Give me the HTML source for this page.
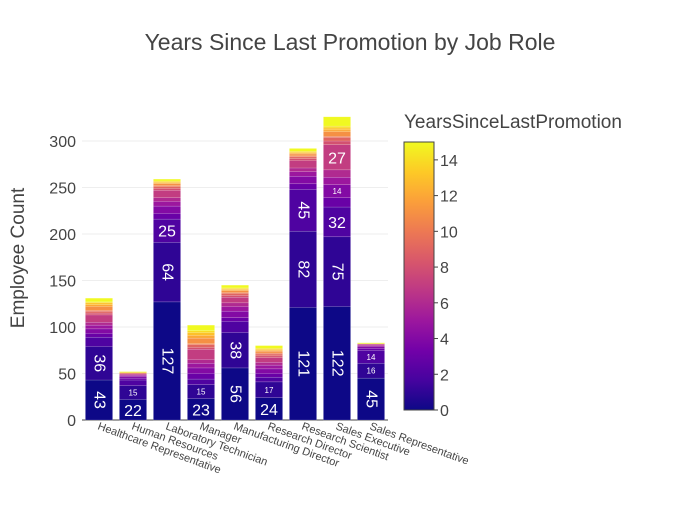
<!DOCTYPE html>
<html><head><meta charset="utf-8"><style>
body{margin:0;background:#fff;font-family:"Liberation Sans",sans-serif}
</style></head><body>
<svg id="c" width="700" height="500" xmlns="http://www.w3.org/2000/svg" style="font-family:'Liberation Sans',sans-serif">
<defs><linearGradient id="cb" x1="0" y1="1" x2="0" y2="0">
<stop offset="0" stop-color="#0d0887"/><stop offset="0.111" stop-color="#46039f"/><stop offset="0.222" stop-color="#7201a8"/><stop offset="0.333" stop-color="#9c179e"/><stop offset="0.444" stop-color="#bd3786"/><stop offset="0.556" stop-color="#d8576b"/><stop offset="0.667" stop-color="#ed7953"/><stop offset="0.778" stop-color="#fb9f3a"/><stop offset="0.889" stop-color="#fdca26"/><stop offset="1" stop-color="#f0f921"/></linearGradient></defs>
<text x="350" y="50" text-anchor="middle" font-size="23" fill="#444">Years Since Last Promotion by Job Role</text>
<text transform="translate(24,258) rotate(-90)" text-anchor="middle" font-size="19" fill="#444">Employee Count</text>
<g id="grid"></g><g id="bars"></g><g id="xl"></g>
<text x="404" y="128" font-size="19" fill="#444">YearsSinceLastPromotion</text>
<rect x="404" y="142" width="30" height="268" fill="url(#cb)" stroke="#444" stroke-width="1"/>
<g id="cbt"></g>
</svg>
<script>
const roles=["Healthcare Representative","Human Resources","Laboratory Technician","Manager","Manufacturing Director","Research Director","Research Scientist","Sales Executive","Sales Representative"];
const years=[0,1,2,3,4,5,6,7,8,9,10,11,12,13,14,15];
const hc=[43,36,10,4,5,4,3,8,2,2,1,4,2,2,1,4];
const hr=[22,15,6,2,2,1,1,1,0,0,0,1,0,0,0,1];
const lt=[127,64,25,6,8,5,4,8,2,2,1,2,1,1,1,2];
const mg=[23,15,6,6,6,5,4,11,2,3,1,6,3,3,2,6];
const md=[56,38,12,4,7,5,4,6,2,2,1,2,1,1,1,3];
const rd=[24,17,5,4,5,4,3,5,2,2,1,2,1,1,1,3];
const rs=[121,82,45,6,8,5,4,8,2,2,1,2,1,1,1,3];
const se=[122,75,32,10,14,8,8,27,4,4,1,5,2,2,2,10];
const sr=[45,16,14,2,2,1,1,1,0,0,0,0,0,0,0,1];
const yTicks=[0,50,100,150,200,250,300];
const cbTicks=[0,2,4,6,8,10,12,14];
const series=[hc,hr,lt,mg,md,rd,rs,se,sr];
const NS="http://www.w3.org/2000/svg";
const X0=82,X1=388,Y0=420,ppu=279/300;
const y=v=>Y0-v*ppu;
const band=(X1-X0)/roles.length;
const stops=["#0d0887","#46039f","#7201a8","#9c179e","#bd3786","#d8576b","#ed7953","#fb9f3a","#fdca26","#f0f921"];
function hex(h){return[1,3,5].map(i=>parseInt(h.substr(i,2),16));}
function col(v){const t=v/15*(stops.length-1);const i=Math.min(Math.floor(t),stops.length-2);const f=t-i;const a=hex(stops[i]),b=hex(stops[i+1]);return"rgb("+a.map((c,k)=>Math.round(c+(b[k]-c)*f)).join(",")+")";}
function mk(tag,attrs,parent){const e=document.createElementNS(NS,tag);for(const k in attrs)e.setAttribute(k,attrs[k]);parent.appendChild(e);return e;}
const grid=document.getElementById("grid");
yTicks.forEach(t=>{
  const l=mk("line",{x1:X0,x2:X1,y1:y(t),y2:y(t),stroke:t===0?"#444":"#eee","stroke-width":1},grid);
  
  
  const tx=mk("text",{x:X0-6,y:y(t)+6,"text-anchor":"end","font-size":16,fill:"#444"},grid);
  tx.textContent=t;
  
  
});
const bars=document.getElementById("bars"),xl=document.getElementById("xl");
const bw=band*0.8;
series.forEach((s,i)=>{
  const bx=X0+band*i+(band-bw)/2;let cum=0;
  s.forEach((v,j)=>{
    if(v<=0)return;
    const top=y(cum+v),bot=y(cum);cum+=v;
    const r=mk("rect",{x:bx,y:top,width:bw,height:bot-top,fill:col(years[j]),stroke:"rgba(255,255,255,0.3)","stroke-width":0.5},bars);
    
    
    const h=bot-top,cx=bx+bw/2,cy=(top+bot)/2;
    let t=null;
    if(h>=30){t=mk("text",{x:cx,y:cy,"text-anchor":"middle","dominant-baseline":"central","font-size":16,fill:"#fff",transform:`rotate(90 ${cx} ${cy})`},bars);}
    else if(h>=18){t=mk("text",{x:cx,y:cy+6,"text-anchor":"middle","font-size":16,fill:"#fff"},bars);}
    else if(h>=12){t=mk("text",{x:cx,y:cy+3,"text-anchor":"middle","font-size":8,fill:"#fff"},bars);}
    if(t){t.textContent=v;}
  });
  const lx=X0+band*i+band/2-2,ly=Y0+9;
  const tl=mk("text",{x:lx,y:ly,"font-size":11,fill:"#444",transform:`rotate(20 ${lx} ${ly})`},xl);
  tl.textContent=roles[i];
  
  
});
const cbt=document.getElementById("cbt");
cbTicks.forEach(t=>{
  const yy=410-t/15*268;
  const l=mk("line",{x1:434,x2:438,y1:yy,y2:yy,stroke:"#444"},cbt);
  
  
  const tx=mk("text",{x:440,y:yy+6,"font-size":16,fill:"#444"},cbt);
  tx.textContent=t;
  
  
});
</script>
</body></html>
